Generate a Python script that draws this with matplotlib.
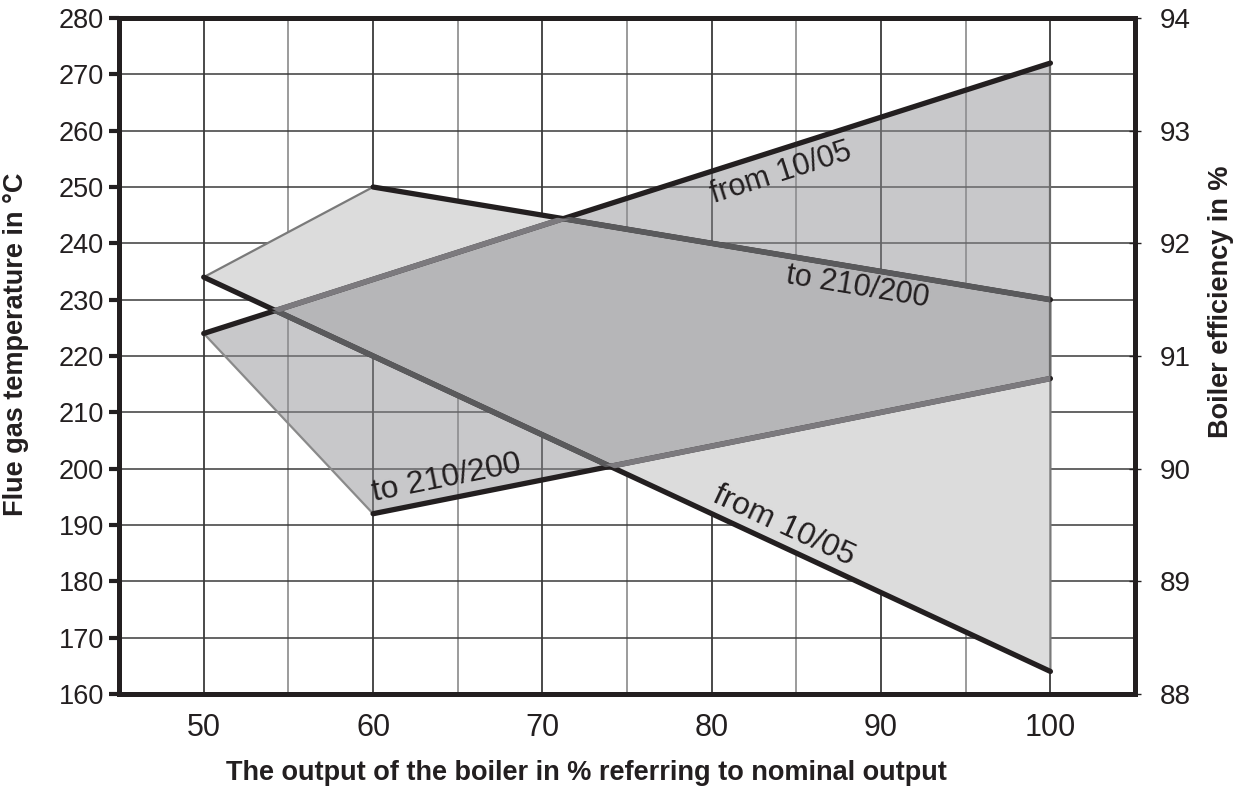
import matplotlib.pyplot as plt
import numpy as np

# boiler efficiency envelope (right axis, %) vs output in % of nominal
eff_x = [50, 60, 100, 100]
eff_y = [91.7, 92.5, 91.5, 88.2]

# flue gas temperature envelope (left axis, deg C)
flue_x = [50, 100, 100, 60]
flue_y = [224, 272, 216, 192]

x_ticks = [50, 60, 70, 80, 90, 100]
t_ticks = list(range(160, 281, 10))
e_ticks = [88, 89, 90, 91, 92, 93, 94]

INK = "#231f20"


def label_line(ax, trans, p0, p1, x, text, side, gap=3, size=22):
    """Write text along the segment p0-p1 at position x, above or below it."""
    y = np.interp(x, [p0[0], p1[0]], [p0[1], p1[1]])
    a = trans.transform([p0, p1])
    ang = np.degrees(np.arctan2(a[1, 1] - a[0, 1], a[1, 0] - a[0, 0]))
    s = 1 if side == "above" else -1
    off = (-s * gap * np.sin(np.radians(ang)), s * gap * np.cos(np.radians(ang)))
    ax.annotate(text, xy=(x, y), xycoords=trans, xytext=off, textcoords="offset points",
                rotation=ang, rotation_mode="anchor", ha="center",
                va="bottom" if side == "above" else "top",
                fontsize=size, color=INK, zorder=5)


def main():
    plt.rcParams["font.family"] = ["Liberation Sans", "DejaVu Sans"]
    fig = plt.figure(figsize=(12.35, 7.87), dpi=100)
    ax = fig.add_axes([0.0964, 0.1182, 0.8227, 0.8589])
    ax2 = ax.twinx()

    ax.set_xlim(45, 105)
    ax.set_ylim(160, 280)
    ax2.set_ylim(88, 94)

    # grid
    for x in np.arange(50, 101, 5):
        c = "#2a2a2a" if x % 10 == 0 else "#8a8a8a"
        ax.axvline(x, color=c, lw=1.2, zorder=0)
    for y in t_ticks[1:-1]:
        ax.axhline(y, color="#3a3a3a", lw=1.1, zorder=0)

    etr = ax2.transData
    ftr = ax.transData

    # efficiency band
    eff_poly = ax.fill(eff_x, eff_y, transform=etr, facecolor="#dcdcdc",
                       edgecolor="#7a7a7a", lw=1.6, zorder=1)[0]
    # flue gas band, semi-transparent on top
    flue_poly = ax.fill(flue_x, flue_y, facecolor=(144/255, 144/255, 148/255),
                        alpha=0.49, edgecolor="none", zorder=2)[0]
    ax.plot([flue_x[0], flue_x[3]], [flue_y[0], flue_y[3]], color="#8a8a8a", lw=1.6, zorder=2)
    ax.plot([flue_x[1], flue_x[2]], [flue_y[1], flue_y[2]], color="#6a6a6a", lw=1.6, zorder=2)

    # thick boundary lines: black outside the other band, grey inside it
    eff_up = ((eff_x[1], eff_y[1]), (eff_x[2], eff_y[2]))
    eff_lo = ((eff_x[0], eff_y[0]), (eff_x[3], eff_y[3]))
    flue_up = ((flue_x[0], flue_y[0]), (flue_x[1], flue_y[1]))
    flue_lo = ((flue_x[3], flue_y[3]), (flue_x[2], flue_y[2]))

    for seg in (eff_up, eff_lo):
        xs, ys = zip(*seg)
        ax.plot(xs, ys, transform=etr, color=INK, lw=3.8, solid_capstyle="round", zorder=3)
        ln, = ax.plot(xs, ys, transform=etr, color="#5a5a5c", lw=4, zorder=3.1)
        ln.set_clip_path(flue_poly)

    for seg in (flue_up, flue_lo):
        xs, ys = zip(*seg)
        ax.plot(xs, ys, color=INK, lw=3.8, solid_capstyle="round", zorder=3)
        ln, = ax.plot(xs, ys, color="#7c7a7e", lw=4, zorder=3.1)
        ln.set_clip_path(eff_poly)

    # line labels
    label_line(ax, ftr, *flue_up, 83.7, "from 10/05", "below", gap=6)
    label_line(ax, etr, *eff_up, 88.8, "to 210/200", "below", gap=3)
    label_line(ax, ftr, *flue_lo, 64.6, "to 210/200", "above", gap=4, size=23)
    label_line(ax, etr, *eff_lo, 83.8, "from 10/05", "above", gap=3, size=23)

    # axes and ticks
    for s in ax.spines.values():
        s.set_linewidth(3.6)
        s.set_color(INK)
    for s in ax2.spines.values():
        s.set_visible(False)

    ax.set_xticks(x_ticks)
    ax.set_yticks(t_ticks)
    ax2.set_yticks(e_ticks)
    ax.tick_params(axis="x", length=0, labelsize=22, pad=14, labelcolor=INK)
    ax.tick_params(axis="y", length=7, width=3, direction="out", labelsize=19.5,
                   pad=4, labelcolor=INK, color=INK)
    ax2.tick_params(axis="y", length=8, width=1, direction="inout", labelsize=20,
                    pad=14, labelcolor=INK, color=INK)

    ax.set_xlabel("The output of the boiler in % referring to nominal output",
                  fontsize=19.5, fontweight="bold", color=INK)
    ax.xaxis.set_label_coords(0.46, -0.097)
    ax.set_ylabel("Flue gas temperature in °C", fontsize=19.5, fontweight="bold",
                  color=INK)
    ax.yaxis.set_label_coords(-0.089, 0.518)
    ax2.set_ylabel("Boiler efficiency in %", fontsize=19.5, fontweight="bold",
                   color=INK)
    ax2.yaxis.set_label_coords(1.072, 0.58)

    fig.savefig("out.png", dpi=100)


if __name__ == "__main__":
    main()
